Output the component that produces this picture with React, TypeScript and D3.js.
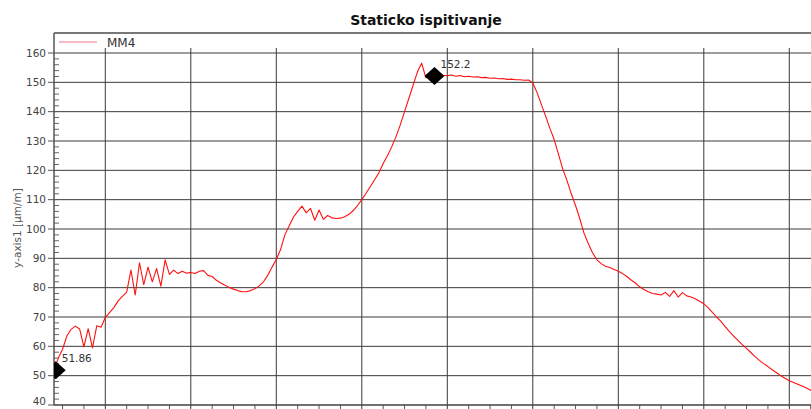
import { useEffect } from 'react'
import * as d3 from 'd3'

// MM4 strain reading, one sample every 5 s starting at t = 40 s
const T_START = 40
const T_STEP = 5
const mm4 = [
  51.9, 56.0, 59.0, 63.5, 65.8, 66.9, 65.9, 59.8, 66.0, 59.5,
  67.0, 66.5, 69.8, 71.5, 73.2, 75.5, 77.0, 78.5, 86.0, 77.5,
  88.5, 81.0, 87.0, 82.0, 86.5, 80.5, 89.5, 84.5, 86.0, 84.8,
  85.6, 84.9, 85.2, 84.8, 85.6, 85.8, 84.2, 83.8, 82.5, 81.6,
  80.8, 80.1, 79.5, 79.0, 78.6, 78.6, 79.0, 79.6, 80.6, 82.0,
  84.2, 87.0, 89.6, 93.0, 98.0, 101.0, 104.0, 106.0, 107.8, 105.5,
  107.0, 103.0, 106.5, 103.3, 104.6, 103.8, 103.6, 103.7, 104.2, 105.0,
  106.3, 108.0, 110.0, 112.2, 114.5, 116.8, 119.2, 122.3, 125.0, 128.0,
  131.5, 135.5, 140.0, 144.5, 149.0, 153.5, 156.5, 151.5, 153.5, 152.2,
  152.6, 152.4, 152.3, 152.5, 152.1, 152.3, 151.9, 152.1, 151.8, 151.9,
  151.6, 151.7, 151.4, 151.5, 151.2, 151.3, 151.0, 151.1, 150.9, 150.9,
  150.7, 150.8, 149.8, 146.5, 142.5, 138.5, 134.3, 130.5, 125.5, 120.5,
  116.5, 112.0, 108.0, 103.5, 98.5, 95.0, 91.8, 89.5, 88.2, 87.3,
  86.9, 86.2, 85.6, 84.8, 83.8, 82.6, 81.6, 80.3, 79.4, 78.6,
  78.0, 77.8, 77.5, 78.4, 77.0, 79.0, 76.8, 78.3, 77.2, 76.8,
  76.2, 75.4, 74.5, 73.2, 71.6, 70.0, 68.5, 66.7, 65.0, 63.5,
  62.0, 60.6, 59.3, 57.9, 56.5, 55.2, 54.1, 53.1, 52.0, 51.0,
  50.0, 49.1, 48.3, 47.7, 47.1, 46.5, 45.8, 45.0, 44.4, 43.9,
  43.4,
]

const yTicks = [40, 50, 60, 70, 80, 90, 100, 110, 120, 130, 140, 150, 160]
const xMajor = [100, 200, 300, 400, 500, 600, 700, 800, 900]

const markerT = [42, 485]
const markerV = [51.86, 152.2]
const markerLabel = ['51.86', '152.2']

const W = 811
const H = 409
const FONT = "'DejaVu Sans', Verdana, sans-serif"

export default function App() {
  useEffect(() => {
    document.body.style.margin = '0'
  }, [])

  const left = 54
  const top = 33
  const bottom = 405

  const x = d3.scaleLinear().domain([40, 940]).range([left, left + 900 * 0.855])
  const y = d3.scaleLinear().domain([40, 160]).range([bottom, 53])

  const pts: [number, number][] = mm4.map((v, i) => [T_START + i * T_STEP, v])
  const line = d3
    .line<[number, number]>()
    .x((d) => x(d[0]))
    .y((d) => y(d[1]))

  const yMinor = d3.range(40, 161, 2).filter((v) => v % 10 !== 0)
  const xMinor = d3.range(50, 940, 25).filter((v) => v % 100 !== 0)

  return (
    <svg width={W} height={H} style={{ display: 'block', background: '#fff' }}>
      <defs>
        <clipPath id="plot">
          <rect x={left} y={top} width={W - left} height={bottom - top} />
        </clipPath>
      </defs>

      <text x={426} y={25} textAnchor="middle" fontFamily={FONT} fontWeight="bold" fontSize={14} fill="#111">
        Staticko ispitivanje
      </text>

      {/* horizontal grid */}
      {yTicks.map((t) => (
        <g key={'y' + t}>
          <line x1={left} x2={W} y1={y(t)} y2={y(t)} stroke="#3a3a3a" strokeWidth={1} />
          <line x1={left - 6} x2={left} y1={y(t)} y2={y(t)} stroke="#555" />
          <text x={left - 8} y={Math.min(y(t), 401)} dy="0.35em" textAnchor="end" fontFamily={FONT} fontSize={10.5} fill="#444">
            {t}
          </text>
        </g>
      ))}
      {yMinor.map((t) => (
        <line key={'ym' + t} x1={left} x2={left + 5} y1={y(t)} y2={y(t)} stroke="#666" />
      ))}

      {/* vertical grid */}
      {xMajor.map((t) => (
        <line key={'x' + t} x1={x(t)} x2={x(t)} y1={48} y2={bottom + 5} stroke="#3a3a3a" strokeWidth={1} />
      ))}
      {xMinor.map((t) => (
        <line key={'xm' + t} x1={x(t)} x2={x(t)} y1={bottom} y2={bottom + 5} stroke="#555" />
      ))}

      {/* frame */}
      <line x1={left} x2={W} y1={top} y2={top} stroke="#777" strokeWidth={2} />
      <line x1={left} x2={left} y1={top} y2={bottom} stroke="#555" strokeWidth={1.5} />
      <line x1={left} x2={W} y1={bottom} y2={bottom} stroke="#444" strokeWidth={1} />

      <g clipPath="url(#plot)">
        <path d={line(pts) ?? ''} fill="none" stroke="#ff1010" strokeWidth={1.1} strokeLinejoin="round" />
        {markerT.map((t, i) => {
          const cx = x(t)
          const cy = y(markerV[i])
          return (
            <path
              key={'m' + i}
              d={`M${cx},${cy - 9}L${cx + 10},${cy}L${cx},${cy + 9}L${cx - 10},${cy}Z`}
              fill="#000"
            />
          )
        })}
      </g>
      {markerT.map((t, i) => (
        <text
          key={'ml' + i}
          x={x(t) + 6}
          y={y(markerV[i]) - 8}
          fontFamily={FONT}
          fontSize={10.5}
          fill="#333"
        >
          {markerLabel[i]}
        </text>
      ))}

      {/* legend */}
      <line x1={59} x2={97} y1={42} y2={42} stroke="#f4a6ae" strokeWidth={1.5} />
      <text x={107} y={46.5} fontFamily={FONT} fontSize={12} fill="#333">
        MM4
      </text>

      <text
        transform={`translate(21,228) rotate(-90)`}
        textAnchor="middle"
        fontFamily={FONT}
        fontSize={10.5}
        fill="#555"
      >
        y-axis1 [µm/m]
      </text>
    </svg>
  )
}
